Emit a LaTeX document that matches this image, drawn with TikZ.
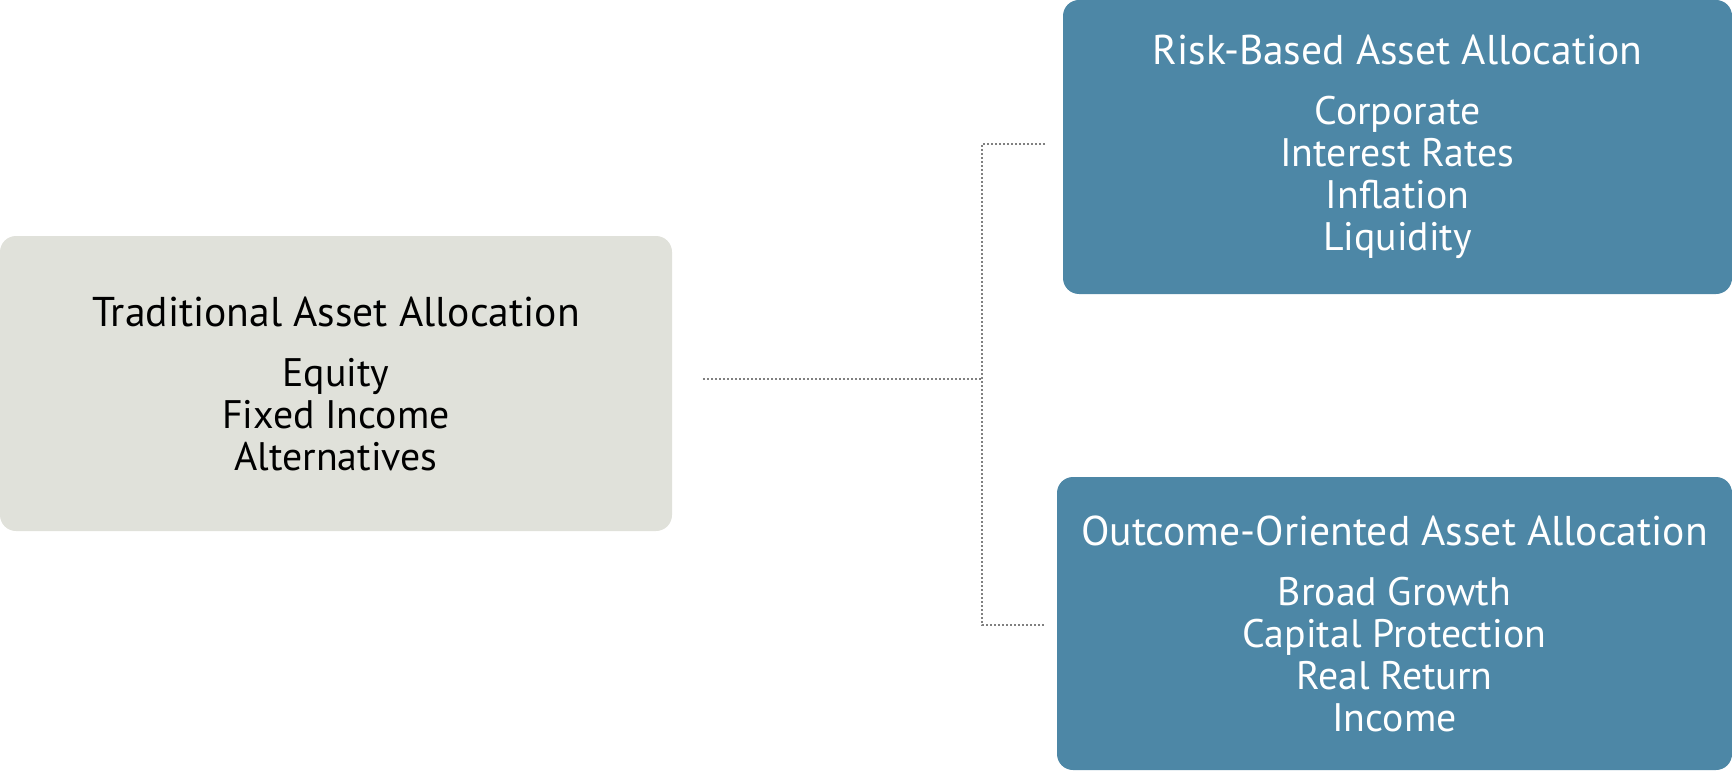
\documentclass[tikz,border=0pt]{standalone}
\usepackage{fontspec}
\setmainfont{PT Sans}
\usepackage{xcolor}
\usetikzlibrary{positioning}

\definecolor{boxgray}{HTML}{E0E1DA}
\definecolor{boxblue}{HTML}{4D87A6}
\definecolor{linkgray}{HTML}{808080}

\newcommand{\boxtitle}[1]{{\fontsize{20.8}{21}\selectfont #1}}

\tikzset{
  allocbox/.style={rounded corners=8pt, inner sep=0pt, align=center,
    font=\fontsize{19.9}{21}\selectfont},
  oldbox/.style={allocbox, fill=boxgray, text=black},
  newbox/.style={allocbox, fill=boxblue, text=white},
  link/.style={linkgray, line width=0.8pt, dash pattern=on 0.8pt off 1.2pt}
}

\begin{document}
\begin{tikzpicture}[x=0.5pt,y=-0.5pt]
\useasboundingbox (0,0) rectangle (1732,770);
% boxes
\node[oldbox, minimum width=336pt, minimum height=147.5pt] (trad) at (336,383.5)
  {\boxtitle{Traditional Asset Allocation}\\[9pt] Equity\\ Fixed Income\\ Alternatives};
\node[newbox, minimum width=334.5pt, minimum height=147pt] (risk) at (1397.5,147)
  {\boxtitle{Risk-Based Asset Allocation}\\[9pt] Corporate\\ Interest Rates\\ Inflation\\ Liquidity};
\node[newbox, minimum width=337.5pt, minimum height=146.5pt] (outcome) at (1394.5,623.5)
  {\boxtitle{Outcome-Oriented Asset Allocation}\\[9pt] Broad Growth\\ Capital Protection\\ Real Return\\ Income};
% dotted connectors
\coordinate (fork) at (982,379);
\coordinate (riskend) at (1045,144);
\coordinate (outend) at (1045,625);
\draw[link, shorten <=15.5pt] (trad.east |- fork) -- (fork);
\draw[link] (riskend) -| (fork) |- (outend);
\end{tikzpicture}
\end{document}
